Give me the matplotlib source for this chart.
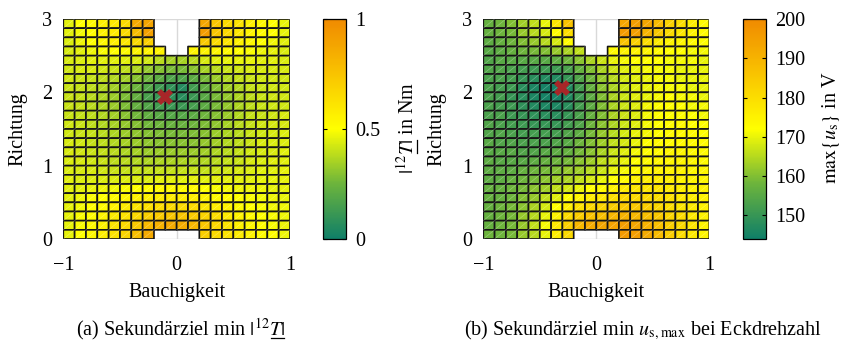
import numpy as np
import matplotlib
matplotlib.use("Agg")
from matplotlib import pyplot as plt
from matplotlib.colors import LinearSegmentedColormap
from matplotlib.collections import LineCollection
from matplotlib.lines import Line2D

plt.rcParams['font.family'] = ['Liberation Serif', 'DejaVu Serif']
plt.rcParams['mathtext.fontset'] = 'stix'
plt.rcParams['font.size'] = 14.5

nan = np.nan

# grid: 20 columns (Bauchigkeit -1..1), 24 rows (Richtung 3..0, top to bottom)
X_EDGES = np.linspace(-1.0, 1.0, 21)
Y_EDGES = np.linspace(3.0, 0.0, 25)

# |12T| in Nm
torque = np.array([
    [.45, .50, .52, .57, .60, .66, .86, .88, nan, nan, nan, nan, .88, .74, .66, .62, .56, .52, .50, .46],
    [.45, .48, .51, .55, .58, .65, .78, .90, nan, nan, nan, nan, .92, .74, .66, .60, .55, .52, .50, .46],
    [.44, .47, .50, .53, .56, .60, .66, .70, nan, nan, nan, nan, .72, .65, .60, .56, .53, .50, .48, .45],
    [.43, .45, .47, .49, .50, .52, .54, .55, .55, nan, nan, .54, .55, .54, .52, .50, .49, .47, .46, .44],
    [.43, .44, .45, .45, .45, .45, .44, .42, .38, .35, .35, .38, .43, .45, .46, .46, .46, .45, .45, .44],
    [.42, .43, .43, .42, .41, .39, .36, .32, .29, .27, .27, .30, .35, .38, .41, .42, .43, .43, .43, .43],
    [.42, .41, .40, .39, .37, .34, .30, .25, .21, .17, .17, .21, .27, .33, .37, .40, .41, .42, .42, .42],
    [.41, .40, .39, .37, .34, .30, .25, .19, .13, .09, .06, .14, .22, .29, .34, .37, .40, .41, .42, .42],
    [.41, .40, .38, .36, .33, .28, .23, .16, .11, .08, .07, .12, .20, .27, .32, .36, .39, .41, .42, .42],
    [.41, .40, .38, .36, .33, .28, .23, .18, .14, .12, .12, .15, .21, .27, .32, .36, .39, .41, .42, .42],
    [.41, .40, .39, .37, .34, .30, .26, .22, .20, .19, .19, .21, .25, .29, .33, .37, .40, .41, .42, .43],
    [.42, .41, .39, .37, .35, .32, .29, .26, .25, .24, .24, .25, .28, .31, .35, .38, .40, .42, .43, .43],
    [.42, .41, .40, .38, .36, .33, .31, .29, .28, .27, .27, .28, .30, .33, .36, .38, .41, .42, .43, .44],
    [.43, .42, .40, .39, .37, .35, .33, .31, .30, .30, .30, .30, .32, .34, .37, .39, .41, .43, .44, .44],
    [.43, .42, .41, .40, .38, .36, .35, .33, .33, .33, .33, .33, .34, .36, .38, .40, .42, .43, .44, .45],
    [.44, .43, .42, .41, .39, .38, .37, .36, .36, .36, .36, .36, .37, .38, .40, .41, .43, .44, .45, .45],
    [.44, .43, .43, .42, .41, .40, .40, .40, .40, .40, .40, .40, .40, .41, .42, .43, .44, .45, .45, .46],
    [.45, .44, .44, .44, .44, .44, .44, .44, .45, .45, .45, .45, .45, .45, .45, .45, .45, .46, .46, .46],
    [.45, .45, .46, .47, .48, .49, .50, .51, .52, .52, .52, .51, .50, .49, .48, .47, .47, .47, .46, .46],
    [.45, .47, .49, .50, .52, .54, .56, .57, .58, .58, .58, .57, .55, .53, .51, .50, .49, .48, .47, .46],
    [.46, .48, .50, .52, .55, .58, .61, .63, .64, .65, .65, .64, .61, .58, .55, .52, .50, .49, .48, .47],
    [.46, .49, .51, .54, .58, .62, .66, .70, .72, .74, .74, .72, .68, .63, .58, .55, .52, .50, .49, .47],
    [.46, .49, .52, .56, .61, .66, .73, .79, .83, .86, .85, .81, .74, .67, .61, .57, .53, .51, .49, .47],
    [.46, .50, .53, .57, .62, .68, .77, .86, nan, nan, nan, nan, .70, .66, .62, .58, .54, .51, .50, .47],
])

# max{u_s} in V at corner speed
voltage = np.array([
    [157, 158, 160, 163, 166, 170, 178, 186, nan, nan, nan, nan, 193, 195, 193, 188, 183, 180, 176, 173],
    [157, 158, 159, 162, 165, 168, 173, 180, nan, nan, nan, nan, 196, 195, 190, 185, 181, 178, 175, 173],
    [156, 157, 158, 160, 162, 165, 168, 173, nan, nan, nan, nan, 186, 183, 180, 177, 175, 174, 173, 172],
    [155, 156, 157, 158, 159, 160, 162, 164, 166, nan, nan, 173, 175, 175, 174, 173, 172, 172, 171, 171],
    [154, 155, 155, 155, 155, 155, 156, 158, 161, 164, 167, 170, 171, 172, 172, 172, 171, 171, 171, 170],
    [154, 154, 153, 152, 151, 151, 151, 153, 157, 160, 164, 167, 169, 170, 171, 171, 171, 170, 170, 170],
    [153, 153, 152, 150, 148, 147, 147, 150, 154, 158, 162, 165, 168, 169, 170, 171, 171, 170, 170, 170],
    [153, 152, 151, 148, 146, 145, 145, 147, 152, 157, 161, 164, 167, 169, 170, 171, 171, 171, 170, 170],
    [153, 152, 150, 148, 146, 145, 145, 147, 151, 156, 160, 164, 167, 169, 170, 171, 172, 171, 171, 170],
    [153, 152, 151, 149, 147, 146, 146, 148, 152, 156, 160, 164, 167, 169, 171, 172, 172, 172, 171, 171],
    [153, 153, 151, 150, 149, 148, 148, 150, 153, 157, 160, 164, 167, 169, 171, 172, 172, 172, 172, 171],
    [154, 153, 152, 151, 150, 150, 150, 152, 154, 158, 161, 164, 167, 169, 171, 172, 173, 173, 172, 172],
    [154, 154, 153, 152, 152, 152, 152, 154, 156, 159, 162, 165, 168, 170, 171, 172, 173, 173, 173, 172],
    [155, 154, 154, 153, 153, 153, 154, 155, 158, 160, 163, 166, 168, 170, 172, 173, 173, 173, 173, 173],
    [155, 155, 155, 154, 154, 155, 156, 157, 159, 161, 164, 167, 169, 171, 172, 173, 174, 174, 173, 173],
    [156, 155, 155, 155, 156, 157, 158, 159, 161, 163, 166, 168, 170, 172, 173, 174, 174, 174, 174, 173],
    [156, 156, 156, 157, 158, 159, 160, 162, 163, 165, 167, 170, 171, 173, 174, 175, 175, 175, 174, 174],
    [156, 156, 157, 158, 159, 161, 163, 164, 166, 168, 170, 172, 173, 175, 176, 176, 176, 175, 175, 174],
    [157, 157, 158, 159, 161, 163, 166, 168, 170, 172, 173, 175, 177, 178, 178, 178, 177, 176, 175, 175],
    [157, 157, 158, 160, 162, 166, 169, 172, 174, 176, 177, 179, 181, 181, 181, 180, 179, 177, 176, 175],
    [157, 158, 159, 161, 164, 168, 172, 176, 179, 181, 182, 184, 185, 185, 184, 182, 180, 178, 177, 175],
    [157, 158, 159, 162, 165, 170, 175, 180, 184, 186, 187, 189, 190, 189, 187, 185, 182, 180, 177, 175],
    [157, 158, 159, 162, 166, 171, 177, 183, 189, 192, 193, 194, 195, 193, 190, 187, 184, 181, 178, 175],
    [158, 158, 159, 162, 165, 170, 176, 181, nan, nan, nan, nan, 196, 195, 192, 188, 184, 180, 177, 174],
])

# optimum of the secondary target
opt_torque = (-0.1, 1.94)
opt_voltage = (-0.3, 2.06)

cmap = LinearSegmentedColormap.from_list(
    "tealyellow", [(0.0, '#0f7f68'), (0.25, '#6cb43c'), (0.5, '#ffff00'),
                   (0.75, '#f9c400'), (1.0, '#f08a00')])

W, H = 850, 349
fig = plt.figure(figsize=(W / 100, H / 100), dpi=100)
renderer = fig.canvas.get_renderer()


def px(x0, y0, x1, y1):
    return [x0 / W, 1 - y1 / H, (x1 - x0) / W, (y1 - y0) / H]


def heatmap(ax_rect, cb_rect, data, vmin, vmax, opt, cb_ticks, cb_ticklabels):
    ax = fig.add_axes(px(*ax_rect))
    ax.set_axisbelow(True)
    ax.grid(True, color='#d9d9d9', linewidth=1.0)
    # pcolor drops the masked cells completely (no edges in the gaps)
    mesh = ax.pcolor(X_EDGES, Y_EDGES, np.ma.masked_invalid(data), cmap=cmap,
                     vmin=vmin, vmax=vmax, edgecolors='#151515', linewidth=1.2)

    # faint triangle seams of the shaded surface
    segs = []
    for r in range(data.shape[0]):
        for c in range(data.shape[1]):
            if not np.isnan(data[r, c]):
                segs.append([(X_EDGES[c], Y_EDGES[r + 1]), (X_EDGES[c + 1], Y_EDGES[r])])
    ax.add_collection(LineCollection(segs, colors='white', linewidths=0.5, alpha=0.3))

    ax.plot(*opt, marker='X', markersize=12, color='#a82628', markeredgewidth=0)
    ax.set_xlim(-1, 1)
    ax.set_ylim(0, 3)
    ax.set_xticks([-1, 0, 1])
    ax.set_yticks([0, 1, 2, 3])
    ax.tick_params(axis='x', length=0, pad=12)
    ax.tick_params(axis='y', length=0, pad=8)
    for s in ax.spines.values():
        s.set_visible(False)

    cax = fig.add_axes(px(*cb_rect))
    cb = fig.colorbar(mesh, cax=cax, ticks=cb_ticks)
    cb.outline.set_linewidth(0.9)
    cax.yaxis.set_ticks_position('both')
    cax.tick_params(direction='in', length=3, width=0.8, pad=7,
                    labelleft=False, labelright=True)
    cax.set_yticklabels(cb_ticklabels)
    return ax, cb


def text_width(s):
    t = fig.text(0, 0, s)
    w = t.get_window_extent(renderer).width
    t.remove()
    return w


def label_with_underlined_T(head, tail, x, y, vertical=False):
    """Draw head + 'T' + tail; the T gets an underline like in LaTeX."""
    full = head + "$T$" + tail
    w_full = text_width(full)
    w_head = text_width(head)
    w_T = text_width(head + "$T$") - w_head
    gap, lw = 2.5, 0.9
    if vertical:
        fig.text(x / W, 1 - y / H, full, rotation=90, rotation_mode='anchor',
                 ha='center', va='baseline')
        y0 = (H - y) - w_full / 2 + w_head + 1
        line = Line2D([(x + gap) / W] * 2, [y0 / H, (y0 + w_T - 1) / H],
                      color='black', linewidth=lw, transform=fig.transFigure)
    else:
        fig.text(x / W, 1 - y / H, full, ha='center', va='baseline')
        x0 = x - w_full / 2 + w_head + 1
        line = Line2D([x0 / W, (x0 + w_T - 1) / W], [1 - (y + gap) / H] * 2,
                      color='black', linewidth=lw, transform=fig.transFigure)
    fig.add_artist(line)


heatmap((63.3, 19, 290, 239), (323.3, 19, 345.7, 239), torque, 0, 1, opt_torque,
        [0, 0.5, 1], ['0', '0.5', '1'])
heatmap((483.3, 19, 709.3, 239), (743.3, 19, 765.7, 239), voltage, 144, 200, opt_voltage,
        [150, 160, 170, 180, 190, 200], ['150', '160', '170', '180', '190', '200'])

# axis labels and captions
fig.text(18 / W, 1 - 129 / H, "Richtung", rotation=90, ha='center', va='center')
fig.text(437 / W, 1 - 129 / H, "Richtung", rotation=90, ha='center', va='center')
label_with_underlined_T(r"$|^{12}$", r"$|$ in Nm", 414, 128, vertical=True)
fig.text(836 / W, 1 - 128 / H, r"$\max\{u_\mathrm{s}\}$ in V", rotation=90,
         rotation_mode='anchor', ha='center', va='baseline')
fig.text(176.7 / W, 1 - 297 / H, "Bauchigkeit", ha='center', va='baseline')
fig.text(596.3 / W, 1 - 297 / H, "Bauchigkeit", ha='center', va='baseline')
label_with_underlined_T(r"(a) Sekundärziel min $|^{12}$", r"$|$", 181, 335)
fig.text(643 / W, 1 - 335 / H, r"(b) Sekundärziel min $u_\mathrm{s,max}$ bei Eckdrehzahl",
         ha='center', va='baseline')

plt.savefig("out.png", dpi=100)
